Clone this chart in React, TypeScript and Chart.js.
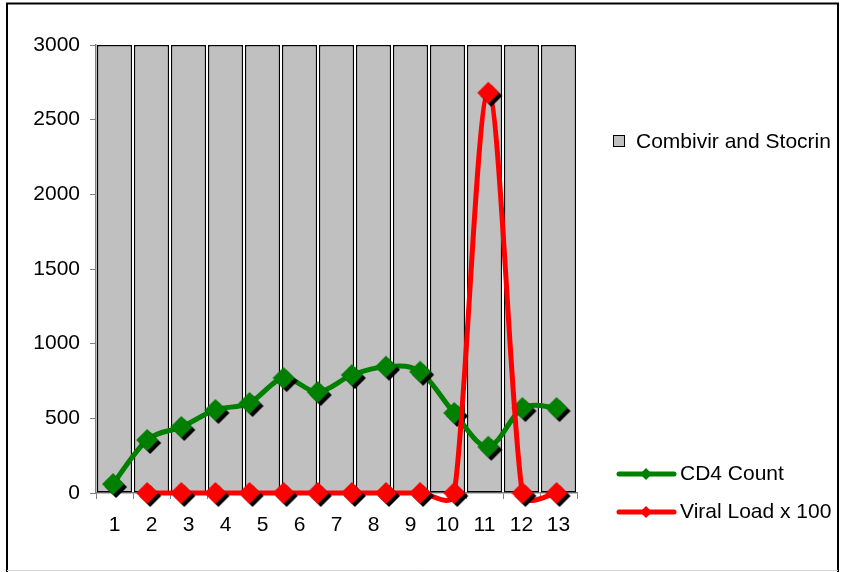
import React, { useEffect, useRef } from "react";
import { Chart, registerables } from "chart.js";

Chart.register(...registerables);

// ---- data ----
const categories = ["1", "2", "3", "4", "5", "6", "7", "8", "9", "10", "11", "12", "13"];
const treatmentValues = [3000, 3000, 3000, 3000, 3000, 3000, 3000, 3000, 3000, 3000, 3000, 3000, 3000];
const cd4Values = [60, 355, 442, 556, 603, 770, 676, 790, 846, 812, 536, 310, 569, 569];
const viralLoadValues = [null, 0, 0, 0, 0, 0, 0, 0, 0, 0, 0, 2680, 0, 0];
const yMin = 0;
const yMax = 3000;
const yStep = 500;

const FONT = "'Liberation Sans', Arial, sans-serif";
const FONT_SIZE = 21;

const toPoints = (arr: (number | null)[]) => arr.map((v, i) => ({ x: i, y: v }));

function makeDiamond(color: string, r: number, off: number): HTMLCanvasElement {
  const size = 2 * (r + off + 2);
  const c = document.createElement("canvas");
  c.width = size;
  c.height = size;
  const ctx = c.getContext("2d")!;
  const m = size / 2;
  const diamond = (cx: number, cy: number, fill: string) => {
    ctx.beginPath();
    ctx.moveTo(cx - r, cy);
    ctx.lineTo(cx, cy - r);
    ctx.lineTo(cx + r, cy);
    ctx.lineTo(cx, cy + r);
    ctx.closePath();
    ctx.fillStyle = fill;
    ctx.fill();
  };
  diamond(m + off, m + off, "#000000");
  diamond(m, m, color);
  return c;
}

// Excel-like smoothing of the line paths (Bezier, tension 1/6, arms capped)
const excelSmoothPlugin = {
  id: "excelSmooth",
  beforeDatasetDraw(chart: any, args: any) {
    const meta = args.meta;
    if (meta.type !== "line") return;
    const line = meta.dataset;
    if (line && line.updateControlPoints) line.updateControlPoints(chart.chartArea, meta.iScale.axis);
    const pts = meta.data.filter((p: any) => !p.skip);
    const n = pts.length;
    const f = 1 / 6;
    const dist = (a: any, b: any) => Math.hypot(a.x - b.x, a.y - b.y);
    for (let i = 0; i < n - 1; i++) {
      const A = pts[i];
      const B = pts[i + 1];
      const P = i > 0 ? pts[i - 1] : A;
      const N = i + 2 < n ? pts[i + 2] : B;
      const dAB = dist(A, B);
      const dPB = dist(P, B);
      const dAN = dist(A, N);
      let f1 = f;
      let f2 = f;
      if (dPB * f > dAB / 2) f1 = dAB / dPB / 2;
      if (dAN * f > dAB / 2) f2 = dAB / dAN / 2;
      A.cp2x = A.x + f1 * (B.x - P.x);
      A.cp2y = A.y + f1 * (B.y - P.y);
      B.cp1x = B.x - f2 * (N.x - A.x);
      B.cp1y = B.y - f2 * (N.y - A.y);
    }
    if (line) line._path = undefined;
  },
};

const framePlugin = {
  id: "frame",
  beforeDraw(chart: any) {
    const ctx = chart.ctx;
    ctx.save();
    ctx.fillStyle = "#ffffff";
    ctx.fillRect(0, 0, chart.width, chart.height);
    ctx.strokeStyle = "#000000";
    ctx.lineWidth = 2;
    ctx.beginPath();
    ctx.moveTo(7, 572);
    ctx.lineTo(7, 3.5);
    ctx.lineTo(838, 3.5);
    ctx.lineTo(838, 572);
    ctx.stroke();
    ctx.strokeStyle = "#d8d8d8";
    ctx.lineWidth = 1;
    ctx.beginPath();
    ctx.moveTo(7, 570.5);
    ctx.lineTo(838, 570.5);
    ctx.stroke();
    ctx.restore();
  },
};

const legendPlugin = {
  id: "customLegend",
  afterDraw(chart: any) {
    const ctx = chart.ctx;
    const ds = chart.data.datasets;
    ctx.save();
    ctx.font = `${FONT_SIZE}px ${FONT}`;
    ctx.textBaseline = "middle";
    ctx.textAlign = "left";
    // bar legend
    ctx.fillStyle = ds[0].backgroundColor;
    ctx.fillRect(613, 135, 12, 12);
    ctx.strokeStyle = "#000";
    ctx.lineWidth = 1;
    ctx.strokeRect(613.5, 135.5, 11, 11);
    ctx.fillStyle = "#000";
    ctx.fillText(ds[0].label, 636, 142);
    // line legends
    const entries = [
      { d: ds[1], y: 474 },
      { d: ds[2], y: 512 },
    ];
    for (const e of entries) {
      ctx.strokeStyle = e.d.borderColor;
      ctx.lineWidth = 5;
      ctx.lineCap = "round";
      ctx.beginPath();
      ctx.moveTo(619, e.y);
      ctx.lineTo(674, e.y);
      ctx.stroke();
      ctx.fillStyle = e.d.borderColor;
      ctx.beginPath();
      const r = 6;
      ctx.moveTo(646 - r, e.y);
      ctx.lineTo(646, e.y - r);
      ctx.lineTo(646 + r, e.y);
      ctx.lineTo(646, e.y + r);
      ctx.closePath();
      ctx.fill();
      ctx.fillStyle = "#000";
      ctx.fillText(e.d.label, 680, e.y);
    }
    ctx.restore();
  },
};

export default function App() {
  const ref = useRef<HTMLCanvasElement | null>(null);

  useEffect(() => {
    if (!ref.current) return;
    Chart.defaults.font.family = FONT;
    Chart.defaults.font.size = FONT_SIZE;
    Chart.defaults.color = "#000";

    const greenPt = makeDiamond("#008000", 11, 3);
    const redPt = makeDiamond("#FF0000", 11, 3);

    const chart = new Chart(ref.current, {
      type: "bar",
      data: {
        labels: categories,
        datasets: [
          {
            type: "bar",
            label: "Combivir and Stocrin",
            data: treatmentValues,
            backgroundColor: "#C0C0C0",
            borderColor: "#000000",
            borderWidth: 1.5,
            borderSkipped: false,
            grouped: false,
            barPercentage: 0.95,
            categoryPercentage: 1,
            xAxisID: "x",
            yAxisID: "y",
            order: 3,
          } as any,
          {
            type: "line",
            label: "CD4 Count",
            data: toPoints(cd4Values),
            borderColor: "#008000",
            backgroundColor: "#008000",
            borderWidth: 5,
            tension: 0.4,
            capBezierPoints: false,
            pointStyle: greenPt,
            pointRadius: 11,
            clip: false,
            xAxisID: "x2",
            yAxisID: "y",
            order: 2,
          } as any,
          {
            type: "line",
            label: "Viral Load x 100",
            data: toPoints(viralLoadValues),
            borderColor: "#FF0000",
            backgroundColor: "#FF0000",
            borderWidth: 5,
            tension: 0.4,
            capBezierPoints: false,
            pointStyle: redPt,
            pointRadius: 11,
            clip: false,
            xAxisID: "x2",
            yAxisID: "y",
            order: 1,
          } as any,
        ],
      },
      options: {
        animation: false,
        responsive: false,
        devicePixelRatio: 1,
        layout: { padding: { left: 0, top: 45, right: 264, bottom: 0 } },
        plugins: {
          legend: { display: false },
          tooltip: { enabled: false },
        },
        scales: {
          x: {
            type: "category",
            offset: true,
            grid: {
              offset: true,
              drawOnChartArea: false,
              drawTicks: true,
              tickLength: 6,
              color: "#808080",
            },
            border: { display: true, color: "#808080", width: 1.5 },
            ticks: { padding: 14, maxRotation: 0, autoSkip: false },
            afterFit: (s: any) => {
              s.height = 79;
            },
          },
          x2: {
            type: "linear",
            min: -0.5,
            max: 13.6,
            offset: false,
            grace: 0,
            display: false,
          },
          y: {
            type: "linear",
            min: yMin,
            max: yMax,
            ticks: {
              stepSize: yStep,
              padding: 10,
              callback: (v: any) => String(v),
            },
            grid: {
              drawOnChartArea: false,
              drawTicks: true,
              tickLength: 6,
              color: "#808080",
            },
            border: { display: true, color: "#808080", width: 1.5 },
            afterFit: (s: any) => {
              s.width = 96;
            },
          },
        },
      },
      plugins: [framePlugin, excelSmoothPlugin, legendPlugin],
    } as any);

    return () => chart.destroy();
  }, []);

  return (
    <div style={{ position: "absolute", left: 0, top: 0, width: 841, height: 572 }}>
      <canvas ref={ref} width={841} height={572} style={{ display: "block" }} />
    </div>
  );
}
